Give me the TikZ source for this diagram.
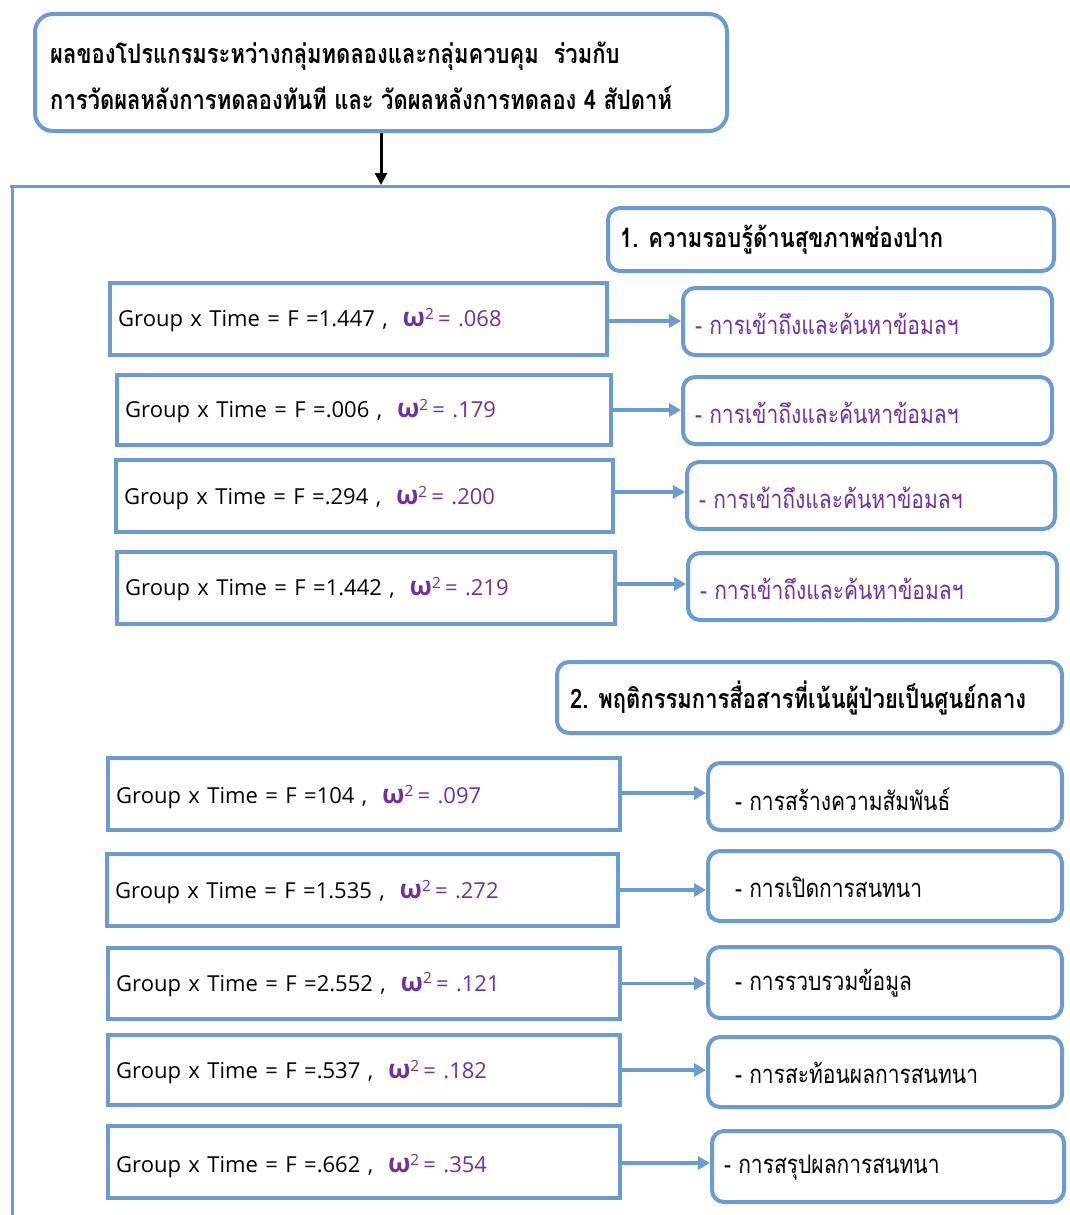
\documentclass[tikz,border=0pt]{standalone}
\usepackage{graphicx}
\usepackage{fontspec}
\setmainfont[WordSpace=1.3]{Open Sans}
\newfontfamily\thaifont[Script=Thai]{Loma}
\usetikzlibrary{arrows.meta,fit}
\definecolor{boxblue}{HTML}{6C9BD2}
\definecolor{statpurple}{HTML}{7030A0}
\newcommand{\tallthai}[1]{\scalebox{1}[1.22]{#1}}
\newcommand{\omegasq}[1]{\textcolor{statpurple}{{\fontsize{26}{26}\selectfont\bfseries ω}\textsuperscript{2}\,= #1}}
\newcommand{\grouptime}[2]{Group x Time = F =#1 ,\ \ \omegasq{#2}}
\tikzset{
  box/.style={draw=boxblue, line width=4pt, inner sep=0pt},
  statbox/.style={box},
  itembox/.style={box, rounded corners=12pt},
  headbox/.style={box, rounded corners=18pt},
  stattext/.style={anchor=west, inner sep=0pt, font=\fontsize{22}{24}\selectfont},
  itemtext/.style={anchor=west, inner sep=0pt, font=\thaifont\fontsize{21}{26}\selectfont, text=statpurple},
  itemtextb/.style={itemtext, text=black},
  titletext/.style={anchor=west, inner sep=0pt, font=\thaifont\bfseries\fontsize{22}{26}\selectfont},
  conn/.style={draw=boxblue, line width=3.5pt, -{Triangle[length=12pt,width=13pt]}},
  frameline/.style={draw=boxblue, line width=3pt},
}
\begin{document}
\begin{tikzpicture}[x=1pt,y=-1pt]
\useasboundingbox (0,0) rectangle (1070,1215);

% heading box and arrow into the frame
\node[headbox, fit={(35,14) (727,131)}] (head) {};
\node[titletext] (headline1) at ([xshift=17pt,yshift=16pt]head.west)
  {\tallthai{ผลของโปรแกรมระหว่างกลุ่มทดลองและกลุ่มควบคุม\ \ ร่วมกับ}};
\node[titletext] (headline2) at ([xshift=17pt,yshift=-25pt]head.west)
  {\tallthai{การวัดผลหลังการทดลองทันที และ วัดผลหลังการทดลอง 4 สัปดาห์}};
\coordinate (ftop) at (381,185);
\draw[line width=3pt, -{Triangle[length=12pt,width=12pt]}] (head.south -| ftop) -- (ftop);

% open frame: top and left edges
\draw[frameline] (10,186) -- (1070,186);
\draw[frameline] (12,186) -- (12,1215);

% section 1
\node[itembox, fit={(608,208) (1054,271)}] (t1) {};
\node[titletext] (t1text) at ([xshift=14pt]t1.west) {\tallthai{1. ความรอบรู้ด้านสุขภาพช่องปาก}};

\node[statbox, fit={(110,283) (607,355)}] (s1) {};
\node[stattext] at ([xshift=10pt,yshift=-1pt]s1.west) {\grouptime{1.447}{.068}};
\node[itembox, fit={(683,288) (1052,355)}] (r1) {};
\node[itemtext] at ([xshift=14pt,yshift=-2pt]r1.west) {\tallthai{- การเข้าถึงและค้นหาข้อมลฯ}};
\draw[conn] ([yshift=-2pt]s1.east) -- ([yshift=-2pt]s1.east -| r1.west);

\node[statbox, fit={(117,375) (611,445)}] (s2) {};
\node[stattext] at ([xshift=10pt,yshift=-1pt]s2.west) {\grouptime{.006}{.179}};
\node[itembox, fit={(683,377) (1052,444)}] (r2) {};
\node[itemtext] at ([xshift=14pt,yshift=-2pt]r2.west) {\tallthai{- การเข้าถึงและค้นหาข้อมลฯ}};
\draw[conn] (s2.east) -- (s2.east -| r2.west);

\node[statbox, fit={(116,460) (613,532)}] (s3) {};
\node[stattext] at ([xshift=10pt,yshift=-2pt]s3.west) {\grouptime{.294}{.200}};
\node[itembox, fit={(687,462) (1055,529)}] (r3) {};
\node[itemtext] at ([xshift=14pt,yshift=-2pt]r3.west) {\tallthai{- การเข้าถึงและค้นหาข้อมลฯ}};
\draw[conn] ([yshift=4pt]s3.east) -- ([yshift=4pt]s3.east -| r3.west);

\node[statbox, fit={(117,552) (615,624)}] (s4) {};
\node[stattext] at ([xshift=10pt,yshift=-1pt]s4.west) {\grouptime{1.442}{.219}};
\node[itembox, fit={(688,553) (1057,620)}] (r4) {};
\node[itemtext] at ([xshift=14pt,yshift=-2pt]r4.west) {\tallthai{- การเข้าถึงและค้นหาข้อมลฯ}};
\draw[conn] ([yshift=4pt]s4.east) -- ([yshift=4pt]s4.east -| r4.west);

% section 2
\node[itembox, fit={(557,662) (1062,733)}] (t2) {};
\node[titletext] (t2text) at ([xshift=15pt]t2.west) {\tallthai{2. พฤติกรรมการสื่อสารที่เน้นผู้ป่วยเป็นศูนย์กลาง}};

\node[statbox, fit={(108,758) (620,830)}] (s5) {};
\node[stattext] at ([xshift=10pt,yshift=-3pt]s5.west) {\grouptime{104}{.097}};
\node[itembox, fit={(708,763) (1062,830)}] (r5) {};
\node[itemtextb] at ([xshift=29pt,yshift=-3pt]r5.west) {\tallthai{- การสร้างความสัมพันธ์}};
\draw[conn] ([yshift=1pt]s5.east) -- ([yshift=1pt]s5.east -| r5.west);

\node[statbox, fit={(107,854) (618,926)}] (s6) {};
\node[stattext] at ([xshift=10pt,yshift=-2pt]s6.west) {\grouptime{1.535}{.272}};
\node[itembox, fit={(708,851) (1062,921)}] (r6) {};
\node[itemtextb] at ([xshift=29pt,yshift=-1pt]r6.west) {\tallthai{- การเปิดการสนทนา}};
\draw[conn] (s6.east) -- (s6.east -| r6.west);

\node[statbox, fit={(108,948) (620,1019)}] (s7) {};
\node[stattext] at ([xshift=10pt,yshift=-1pt]s7.west) {\grouptime{2.552}{.121}};
\node[itembox, fit={(708,947) (1062,1018)}] (r7) {};
\node[itemtextb] at ([xshift=29pt,yshift=-1pt]r7.west) {\tallthai{- การรวบรวมข้อมูล}};
\draw[conn] (s7.east) -- (s7.east -| r7.west);

\node[statbox, fit={(108,1035) (620,1105)}] (s8) {};
\node[stattext] at ([xshift=10pt,yshift=-2pt]s8.west) {\grouptime{.537}{.182}};
\node[itembox, fit={(708,1037) (1062,1107)}] (r8) {};
\node[itemtextb] at ([xshift=29pt,yshift=-1pt]r8.west) {\tallthai{- การสะท้อนผลการสนทนา}};
\draw[conn] (s8.east) -- (s8.east -| r8.west);

\node[statbox, fit={(108,1126) (620,1198)}] (s9) {};
\node[stattext] at ([xshift=10pt,yshift=-4pt]s9.west) {\grouptime{.662}{.354}};
\node[itembox, fit={(712,1131) (1064,1202)}] (r9) {};
\node[itemtextb] at ([xshift=14pt,yshift=-1pt]r9.west) {\tallthai{- การสรุปผลการสนทนา}};
\draw[conn] ([yshift=-1pt]s9.east) -- ([yshift=-1pt]s9.east -| r9.west);
\end{tikzpicture}
\end{document}
